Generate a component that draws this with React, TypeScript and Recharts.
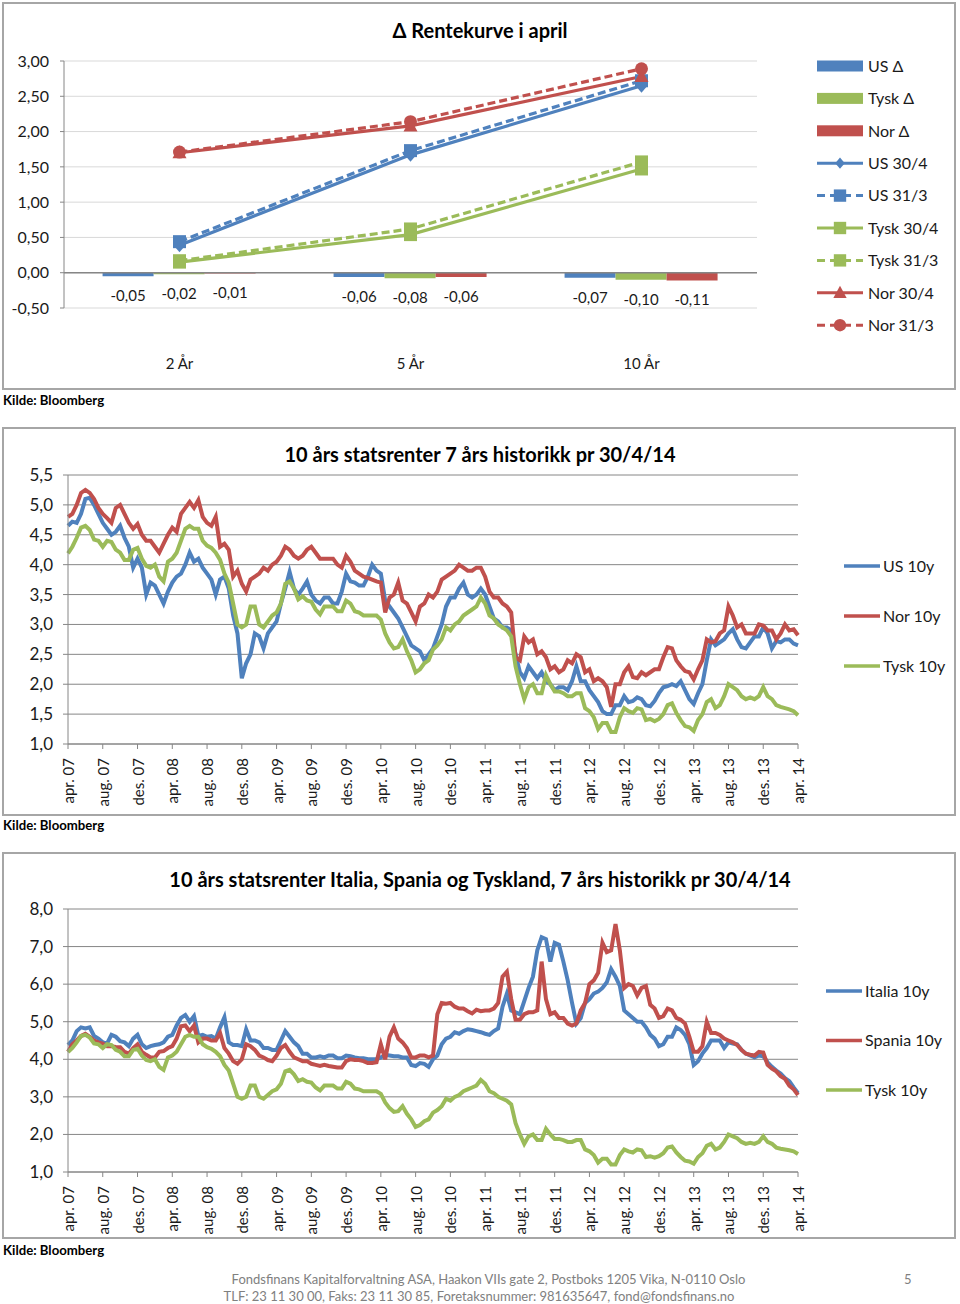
import React from 'react'
import { ComposedChart, LineChart, Line, Bar, XAxis, YAxis, CartesianGrid, ReferenceLine, LabelList, Legend } from 'recharts'

const FONT = 'Lato, "Open Sans", Arial, sans-serif'
const BLUE = '#4f81bd'
const RED = '#c0504d'
const GREEN = '#9bbb59'
const AXIS = '#868686'
const TEXT = '#1a1a1a'

// ---- Δ Rentekurve i april ----
const curveCats = ['2 År', '5 År', '10 År']
const usDelta = [-0.05, -0.06, -0.07]
const tyskDelta = [-0.02, -0.08, -0.1]
const norDelta = [-0.01, -0.06, -0.11]
const us304 = [0.39, 1.67, 2.65]
const us313 = [0.44, 1.73, 2.72]
const tysk304 = [0.15, 0.54, 1.47]
const tysk313 = [0.17, 0.62, 1.57]
const nor304 = [1.7, 2.08, 2.78]
const nor313 = [1.71, 2.14, 2.89]
const curveTicks = [-0.5, 0, 0.5, 1, 1.5, 2, 2.5, 3]

// ---- 10 års statsrenter, halvmånedlige observasjoner apr. 07 - apr. 14 ----
const tickLabels = [
  'apr. 07', 'aug. 07', 'des. 07', 'apr. 08', 'aug. 08', 'des. 08', 'apr. 09', 'aug. 09',
  'des. 09', 'apr. 10', 'aug. 10', 'des. 10', 'apr. 11', 'aug. 11', 'des. 11', 'apr. 12',
  'aug. 12', 'des. 12', 'apr. 13', 'aug. 13', 'des. 13', 'apr. 14',
]

const us10 = [
  4.65, 4.72, 4.70, 4.85, 5.10, 5.12, 5.00, 4.85, 4.70, 4.60, 4.50, 4.55,
  4.65, 4.45, 4.30, 3.95, 4.10, 3.95, 3.50, 3.70, 3.65, 3.50, 3.35, 3.55,
  3.70, 3.80, 3.85, 4.00, 4.20, 4.05, 4.10, 3.95, 3.85, 3.75, 3.50, 3.75,
  3.80, 3.60, 3.15, 2.85, 2.10, 2.35, 2.50, 2.85, 2.80, 2.60, 2.85, 2.95,
  3.05, 3.35, 3.60, 3.88, 3.60, 3.50, 3.60, 3.72, 3.50, 3.40, 3.35, 3.45,
  3.45, 3.35, 3.35, 3.55, 3.85, 3.72, 3.70, 3.65, 3.65, 3.80, 4.00, 3.90,
  3.85, 3.40, 3.30, 3.20, 3.10, 2.95, 2.80, 2.65, 2.60, 2.55, 2.40, 2.50,
  2.60, 2.80, 3.00, 3.30, 3.45, 3.45, 3.60, 3.70, 3.50, 3.45, 3.50, 3.60,
  3.50, 3.30, 3.10, 3.05, 2.95, 2.95, 2.90, 2.50, 2.20, 2.10, 2.30, 2.20,
  2.10, 2.20, 2.05, 2.00, 1.90, 1.95, 1.95, 1.90, 2.05, 2.30, 2.05, 2.05,
  1.90, 1.80, 1.70, 1.55, 1.50, 1.50, 1.65, 1.65, 1.80, 1.70, 1.72, 1.78,
  1.75, 1.65, 1.63, 1.72, 1.85, 1.95, 1.97, 2.00, 1.97, 2.05, 1.90, 1.75,
  1.67, 1.85, 2.00, 2.40, 2.75, 2.65, 2.70, 2.75, 2.85, 2.92, 2.75, 2.62,
  2.60, 2.70, 2.80, 2.80, 2.95, 2.85, 2.60, 2.72, 2.70, 2.75, 2.75, 2.68,
  2.65,
]

const nor10 = [
  4.80, 4.85, 5.00, 5.20, 5.25, 5.20, 5.10, 4.95, 4.85, 4.78, 4.70, 4.95,
  5.00, 4.85, 4.70, 4.60, 4.68, 4.50, 4.40, 4.40, 4.30, 4.20, 4.35, 4.50,
  4.62, 4.55, 4.85, 4.95, 5.05, 4.95, 5.08, 4.80, 4.70, 4.65, 4.80, 4.30,
  4.35, 4.25, 3.80, 3.90, 3.68, 3.55, 3.75, 3.80, 3.85, 3.95, 3.90, 4.00,
  4.05, 4.15, 4.30, 4.25, 4.15, 4.10, 4.15, 4.25, 4.30, 4.20, 4.10, 4.10,
  4.10, 4.10, 4.00, 3.95, 4.15, 4.05, 3.90, 3.85, 3.80, 3.78, 3.75, 3.72,
  3.70, 3.20, 3.45, 3.50, 3.70, 3.40, 3.35, 3.20, 3.05, 3.30, 3.35, 3.50,
  3.45, 3.55, 3.75, 3.80, 3.85, 3.90, 4.00, 3.95, 3.90, 3.90, 3.95, 3.95,
  3.80, 3.55, 3.45, 3.45, 3.35, 3.30, 3.20, 2.45, 2.40, 2.80, 2.70, 2.75,
  2.50, 2.55, 2.45, 2.25, 2.30, 2.20, 2.25, 2.40, 2.35, 2.50, 2.45, 2.20,
  2.25, 2.05, 2.10, 2.05, 1.95, 1.62, 2.00, 2.00, 2.20, 2.30, 2.12, 2.10,
  2.20, 2.15, 2.20, 2.25, 2.25, 2.45, 2.62, 2.60, 2.40, 2.30, 2.22, 2.20,
  2.08, 2.25, 2.40, 2.75, 2.70, 2.72, 2.85, 2.90, 3.30, 3.15, 2.95, 3.00,
  2.85, 2.85, 2.85, 3.00, 2.98, 2.90, 2.90, 2.75, 2.85, 3.00, 2.90, 2.92,
  2.82,
]

const tysk10 = [
  4.19, 4.30, 4.45, 4.62, 4.65, 4.58, 4.42, 4.40, 4.30, 4.40, 4.38, 4.25,
  4.20, 4.08, 4.08, 4.25, 4.28, 4.10, 3.98, 3.95, 4.00, 3.80, 3.72, 4.05,
  4.10, 4.20, 4.40, 4.60, 4.65, 4.60, 4.60, 4.40, 4.32, 4.28, 4.20, 4.08,
  3.85, 3.70, 3.35, 3.00, 2.95, 3.00, 3.30, 3.30, 3.00, 2.95, 3.05, 3.15,
  3.20, 3.35, 3.68, 3.72, 3.60, 3.42, 3.47, 3.40, 3.38, 3.25, 3.17, 3.30,
  3.30, 3.30, 3.22, 3.22, 3.40, 3.35, 3.22, 3.20, 3.15, 3.15, 3.15, 3.15,
  3.08, 2.85, 2.70, 2.60, 2.62, 2.75, 2.55, 2.40, 2.20, 2.25, 2.35, 2.40,
  2.58, 2.65, 2.75, 2.95, 2.90, 3.00, 3.05, 3.15, 3.20, 3.25, 3.30, 3.45,
  3.35, 3.15, 3.10, 3.00, 2.95, 2.90, 2.80, 2.30, 2.00, 1.75, 1.95, 2.00,
  1.85, 1.85, 2.15, 2.00, 1.88, 1.88, 1.85, 1.80, 1.80, 1.85, 1.85, 1.60,
  1.55, 1.45, 1.25, 1.35, 1.35, 1.20, 1.20, 1.45, 1.60, 1.55, 1.52, 1.60,
  1.58, 1.40, 1.42, 1.38, 1.42, 1.50, 1.65, 1.68, 1.52, 1.40, 1.30, 1.28,
  1.22, 1.40, 1.50, 1.70, 1.75, 1.60, 1.65, 1.80, 2.00, 1.95, 1.90, 1.80,
  1.75, 1.78, 1.75, 1.80, 1.95, 1.80, 1.75, 1.65, 1.62, 1.60, 1.58, 1.55,
  1.48,
]

const ita10 = [
  4.38, 4.50, 4.75, 4.85, 4.82, 4.85, 4.62, 4.55, 4.45, 4.42, 4.65, 4.60,
  4.48, 4.45, 4.35, 4.55, 4.65, 4.40, 4.30, 4.35, 4.38, 4.40, 4.45, 4.60,
  4.65, 4.90, 5.10, 5.18, 5.00, 5.15, 4.62, 4.65, 4.60, 4.62, 4.55, 4.85,
  5.12, 4.45, 4.38, 4.38, 4.35, 4.80, 4.50, 4.50, 4.45, 4.30, 4.30, 4.25,
  4.25, 4.50, 4.75, 4.60, 4.45, 4.35, 4.15, 4.15, 4.05, 4.05, 4.08, 4.05,
  4.10, 4.10, 4.03, 4.03, 4.10, 4.08, 4.05, 4.03, 4.03, 4.00, 4.00, 4.00,
  4.05, 4.12, 4.10, 4.08, 4.08, 4.05, 4.05, 3.85, 3.82, 3.90, 3.88, 3.80,
  4.00, 4.10, 4.40, 4.55, 4.60, 4.72, 4.68, 4.75, 4.80, 4.78, 4.75, 4.72,
  4.68, 4.65, 4.75, 4.82, 5.40, 5.75, 5.30, 5.25, 5.20, 5.55, 5.90, 6.20,
  6.90, 7.25, 7.20, 6.60, 7.10, 7.05, 6.60, 6.10, 5.50, 4.95, 5.10, 5.50,
  5.60, 5.75, 5.80, 5.90, 6.05, 6.40, 6.20, 5.95, 5.30, 5.20, 5.10, 5.00,
  5.00, 4.85, 4.65, 4.55, 4.35, 4.40, 4.60, 4.60, 4.85, 4.78, 4.65, 4.40,
  3.85, 3.95, 4.15, 4.30, 4.50, 4.50, 4.50, 4.30, 4.45, 4.42, 4.40, 4.25,
  4.15, 4.10, 4.05, 4.10, 4.08, 3.92, 3.80, 3.70, 3.62, 3.50, 3.42, 3.25,
  3.10,
]

const spa10 = [
  4.20, 4.40, 4.50, 4.62, 4.68, 4.60, 4.50, 4.45, 4.42, 4.35, 4.35, 4.33,
  4.32, 4.20, 4.15, 4.30, 4.40, 4.20, 4.12, 4.05, 4.05, 4.20, 4.22, 4.30,
  4.35, 4.55, 4.88, 4.90, 4.75, 4.90, 4.45, 4.55, 4.55, 4.50, 4.50, 4.70,
  4.30, 4.15, 3.95, 3.88, 4.00, 4.40, 4.35, 4.25, 4.10, 4.05, 3.98, 3.95,
  4.10, 4.30, 4.38, 4.20, 4.05, 4.00, 3.95, 3.95, 3.88, 3.85, 3.82, 3.85,
  3.82, 3.80, 3.78, 3.78, 3.95, 4.00, 3.98, 3.98, 3.95, 3.90, 3.90, 3.92,
  4.40, 4.00, 4.60, 4.85, 4.55, 4.45, 4.30, 4.05, 4.05, 4.10, 4.10, 4.05,
  4.10, 5.20, 5.50, 5.48, 5.50, 5.40, 5.35, 5.35, 5.28, 5.22, 5.32, 5.28,
  5.30, 5.30, 5.35, 5.50, 6.20, 6.33, 5.60, 5.05, 5.05, 5.20, 5.25, 5.25,
  5.30, 6.60, 5.60, 5.20, 5.25, 5.10, 5.10, 4.95, 4.90, 4.95, 5.30, 5.50,
  6.00, 6.10, 6.30, 7.10, 6.85, 6.90, 7.60, 6.90, 5.90, 6.00, 5.95, 5.70,
  5.90, 5.95, 5.45, 5.35, 5.10, 5.15, 5.35, 5.30, 5.10, 5.05, 4.95, 4.60,
  4.20, 4.20, 4.35, 5.00, 4.70, 4.70, 4.65, 4.55, 4.50, 4.45, 4.38, 4.25,
  4.15, 4.12, 4.10, 4.20, 4.18, 3.85, 3.75, 3.68, 3.55, 3.48, 3.30, 3.20,
  3.05,
]

const ratesTicks = [1, 1.5, 2, 2.5, 3, 3.5, 4, 4.5, 5, 5.5]
const euroTicks = [1, 2, 3, 4, 5, 6, 7, 8]
const monthTicks = tickLabels.map((_, i) => i * 4)

// x = months since apr. 07, half-month steps
const curveRows = curveCats.map((cat, i) => ({
  cat,
  usD: usDelta[i], tyskD: tyskDelta[i], norD: norDelta[i],
  us304: us304[i], us313: us313[i],
  tysk304: tysk304[i], tysk313: tysk313[i],
  nor304: nor304[i], nor313: nor313[i],
}))
const ratesRows = us10.map((v, i) => ({ m: i / 2, us: v, nor: nor10[i], tysk: tysk10[i] }))
const euroRows = ita10.map((v, i) => ({ m: i / 2, ita: v, spa: spa10[i], tysk: tysk10[i] }))

const fmt2 = (v: number) => v.toFixed(2).replace('.', ',')
const fmt1 = (v: number) => v.toFixed(1).replace('.', ',')

type Shape = 'diamond' | 'square' | 'triangle' | 'circle'

const curveBars = [
  { key: 'usD', name: 'US Δ', color: BLUE },
  { key: 'tyskD', name: 'Tysk Δ', color: GREEN },
  { key: 'norD', name: 'Nor Δ', color: RED },
]
const curveLines: { key: string; name: string; color: string; dashed: boolean; shape: Shape }[] = [
  { key: 'us304', name: 'US 30/4', color: BLUE, dashed: false, shape: 'diamond' },
  { key: 'us313', name: 'US 31/3', color: BLUE, dashed: true, shape: 'square' },
  { key: 'tysk304', name: 'Tysk 30/4', color: GREEN, dashed: false, shape: 'square' },
  { key: 'tysk313', name: 'Tysk 31/3', color: GREEN, dashed: true, shape: 'square' },
  { key: 'nor304', name: 'Nor 30/4', color: RED, dashed: false, shape: 'triangle' },
  { key: 'nor313', name: 'Nor 31/3', color: RED, dashed: true, shape: 'circle' },
]

function Marker({ shape, cx, cy, color, s = 1 }: { shape: Shape; cx: number; cy: number; color: string; s?: number }) {
  if (shape === 'circle') return <circle cx={cx} cy={cy} r={6.5 * s} fill={color} />
  if (shape === 'square') return <rect x={cx - 6.5 * s} y={cy - 6.5 * s} width={13 * s} height={13 * s} fill={color} />
  if (shape === 'triangle')
    return <path d={`M${cx},${cy - 7.5 * s}L${cx + 7 * s},${cy + 5.5 * s}L${cx - 7 * s},${cy + 5.5 * s}Z`} fill={color} />
  return <path d={`M${cx},${cy - 7 * s}L${cx + 6 * s},${cy}L${cx},${cy + 7 * s}L${cx - 6 * s},${cy}Z`} fill={color} />
}

const dotOf = (shape: Shape, color: string) => (p: any) =>
  p.cx == null ? <g key={`m-${p.index}`} /> : <Marker key={`m-${p.index}`} shape={shape} cx={p.cx} cy={p.cy} color={color} />

function DeltaLabel(p: any) {
  const vb = p.viewBox || p
  const x = Number(vb.x), y = Number(vb.y), w = Number(vb.width), h = Number(vb.height)
  const bottom = Math.max(y, y + h)
  return (
    <text x={x + w / 2} y={bottom + 25} textAnchor="middle" fontSize={15} fontFamily={FONT} fill={TEXT}>
      {fmt2(Number(p.value))}
    </text>
  )
}

function CatTick(p: any) {
  return (
    <text x={p.x} y={p.y + 61} textAnchor="middle" fontSize={15} fontFamily={FONT} fill={TEXT}>
      {p.payload.value}
    </text>
  )
}

function DateTick(p: any) {
  const label = tickLabels[Math.round(p.payload.value / 4)]
  return (
    <text transform={`translate(${p.x + 6},${p.y + 9}) rotate(-90)`} textAnchor="end" fontSize={15} fontFamily={FONT} fill={TEXT}>
      {label}
    </text>
  )
}

function CurveLegend() {
  const rows = [
    ...curveBars.map((b) => ({ ...b, kind: 'bar' as const, dashed: false, shape: 'square' as Shape })),
    ...curveLines.map((l) => ({ ...l, kind: 'line' as const })),
  ]
  return (
    <svg width={150} height={300} style={{ display: 'block' }}>
      {rows.map((r, i) => {
        const cy = 16 + i * 32.4
        return (
          <g key={r.name}>
            {r.kind === 'bar' ? (
              <rect x={5} y={cy - 5.5} width={46} height={11} fill={r.color} />
            ) : (
              <>
                <line x1={5} x2={51} y1={cy} y2={cy} stroke={r.color} strokeWidth={3} strokeDasharray={r.dashed ? '8 5' : undefined} />
                <Marker shape={r.shape} cx={28} cy={cy} color={r.color} s={r.shape === 'diamond' ? 0.8 : 0.95} />
              </>
            )}
            <text x={56} y={cy + 5.8} fontSize={16} fontFamily={FONT} fill={TEXT}>{r.name}</text>
          </g>
        )
      })}
    </svg>
  )
}

function makeLineLegend(items: { name: string; color: string }[], step: number) {
  return function LineLegend() {
    return (
      <svg width={130} height={150} style={{ display: 'block' }}>
        {items.map((it, i) => {
          const cy = 19 + i * step
          return (
            <g key={it.name}>
              <line x1={6} x2={42} y1={cy} y2={cy} stroke={it.color} strokeWidth={3.5} />
              <text x={45} y={cy + 5.8} fontSize={16} fontFamily={FONT} fill={TEXT}>{it.name}</text>
            </g>
          )
        })}
      </svg>
    )
  }
}

const RatesLegend = makeLineLegend(
  [{ name: 'US 10y', color: BLUE }, { name: 'Nor 10y', color: RED }, { name: 'Tysk 10y', color: GREEN }],
  50,
)
const EuroLegend = makeLineLegend(
  [{ name: 'Italia 10y', color: BLUE }, { name: 'Spania 10y', color: RED }, { name: 'Tysk 10y', color: GREEN }],
  49.5,
)

function CurveChart() {
  return (
    <ComposedChart
      width={960}
      height={400}
      data={curveRows}
      margin={{ top: 61, right: 203, bottom: 12, left: 8 }}
      barCategoryGap="16.7%"
      barGap={0}
    >
      <CartesianGrid vertical={false} stroke="#d9d9d9" />
      <XAxis dataKey="cat" height={80} axisLine={false} tickLine={false} tickSize={0} tickMargin={0} interval={0} tick={CatTick} />
      <YAxis
        width={56}
        domain={[-0.5, 3]}
        ticks={curveTicks}
        interval={0}
        tickFormatter={fmt2}
        stroke={AXIS}
        tickSize={4}
        tickMargin={11}
        tick={{ fill: TEXT, fontSize: 16, fontFamily: FONT }}
      />
      <ReferenceLine y={0} stroke={AXIS} strokeWidth={1.5} />
      {curveBars.map((b) => (
        <Bar key={b.key} dataKey={b.key} fill={b.color} isAnimationActive={false}>
          <LabelList dataKey={b.key} content={DeltaLabel} />
        </Bar>
      ))}
      {curveLines.map((l) => (
        <Line
          key={l.key}
          type="linear"
          dataKey={l.key}
          stroke={l.color}
          strokeWidth={3.2}
          strokeDasharray={l.dashed ? '8 4' : undefined}
          dot={dotOf(l.shape, l.color)}
          activeDot={false}
          isAnimationActive={false}
        />
      ))}
      <Legend content={CurveLegend} layout="vertical" align="center" verticalAlign="middle" wrapperStyle={{ left: 812, top: 50, width: 150 }} />
    </ComposedChart>
  )
}

function RatesChart() {
  return (
    <LineChart width={960} height={388} data={ratesRows} margin={{ top: 48, right: 162, bottom: 9, left: 8 }}>
      <CartesianGrid vertical={false} stroke={AXIS} />
      <XAxis
        type="number"
        dataKey="m"
        domain={[0, 84]}
        ticks={monthTicks}
        interval={0}
        height={62}
        stroke={AXIS}
        tickSize={5}
        tickMargin={0}
        tick={DateTick}
      />
      <YAxis
        width={60}
        domain={[1, 5.5]}
        ticks={ratesTicks}
        interval={0}
        tickFormatter={fmt1}
        stroke={AXIS}
        tickSize={5}
        tickMargin={10}
        tick={{ fill: TEXT, fontSize: 17, fontFamily: FONT }}
      />
      <Line type="linear" dataKey="us" stroke={BLUE} strokeWidth={4} dot={false} activeDot={false} isAnimationActive={false} />
      <Line type="linear" dataKey="nor" stroke={RED} strokeWidth={4} dot={false} activeDot={false} isAnimationActive={false} />
      <Line type="linear" dataKey="tysk" stroke={GREEN} strokeWidth={4} dot={false} activeDot={false} isAnimationActive={false} />
      <Legend content={RatesLegend} layout="vertical" align="center" verticalAlign="middle" wrapperStyle={{ left: 838, top: 120, width: 130 }} />
    </LineChart>
  )
}

function EuroChart() {
  return (
    <LineChart width={960} height={388} data={euroRows} margin={{ top: 57, right: 162, bottom: 8, left: 8 }}>
      <CartesianGrid vertical={false} stroke={AXIS} />
      <XAxis
        type="number"
        dataKey="m"
        domain={[0, 84]}
        ticks={monthTicks}
        interval={0}
        height={60}
        stroke={AXIS}
        tickSize={5}
        tickMargin={0}
        tick={DateTick}
      />
      <YAxis
        width={60}
        domain={[1, 8]}
        ticks={euroTicks}
        interval={0}
        tickFormatter={fmt1}
        stroke={AXIS}
        tickSize={5}
        tickMargin={10}
        tick={{ fill: TEXT, fontSize: 17, fontFamily: FONT }}
      />
      <Line type="linear" dataKey="ita" stroke={BLUE} strokeWidth={4} dot={false} activeDot={false} isAnimationActive={false} />
      <Line type="linear" dataKey="spa" stroke={RED} strokeWidth={4} dot={false} activeDot={false} isAnimationActive={false} />
      <Line type="linear" dataKey="tysk" stroke={GREEN} strokeWidth={4} dot={false} activeDot={false} isAnimationActive={false} />
      <Legend content={EuroLegend} layout="vertical" align="center" verticalAlign="middle" wrapperStyle={{ left: 820, top: 120, width: 130 }} />
    </LineChart>
  )
}

const panel = (top: number, height: number): React.CSSProperties => ({
  position: 'absolute',
  left: 2,
  top,
  width: 954,
  height,
  boxSizing: 'border-box',
  border: '2px solid #a6a6a6',
})

const title = (top: number): React.CSSProperties => ({
  position: 'absolute',
  left: 0,
  top,
  width: 960,
  textAlign: 'center',
  fontSize: 20,
  fontWeight: 700,
  lineHeight: '24px',
  color: '#000',
})

const kilde = (top: number): React.CSSProperties => ({
  position: 'absolute',
  left: 3,
  top,
  fontSize: 13.2,
  fontWeight: 700,
  lineHeight: '16px',
  color: '#000',
})

const footer: React.CSSProperties = {
  position: 'absolute',
  left: 0,
  fontSize: 13,
  lineHeight: '16px',
  color: '#808080',
  textAlign: 'center',
}

export default function App() {
  return (
    <div style={{ position: 'absolute', left: 0, top: 0, width: 960, height: 1304, background: '#fff', fontFamily: FONT, overflow: 'hidden' }}>
      <div style={panel(2, 388)} />
      <div style={panel(427, 389)} />
      <div style={panel(852, 387)} />

      <div style={{ position: 'absolute', left: 0, top: 0 }}><CurveChart /></div>
      <div style={{ position: 'absolute', left: 0, top: 427 }}><RatesChart /></div>
      <div style={{ position: 'absolute', left: 0, top: 852 }}><EuroChart /></div>

      <div style={title(18)}>Δ Rentekurve i april</div>
      <div style={title(442)}>10 års statsrenter 7 års historikk pr 30/4/14</div>
      <div style={title(867)}>10 års statsrenter Italia, Spania og Tyskland, 7 års historikk pr 30/4/14</div>

      <div style={kilde(392)}>Kilde: Bloomberg</div>
      <div style={kilde(817)}>Kilde: Bloomberg</div>
      <div style={kilde(1242)}>Kilde: Bloomberg</div>

      <div style={{ ...footer, width: 977, top: 1271 }}>
        Fondsfinans Kapitalforvaltning ASA, Haakon VIIs gate 2, Postboks 1205 Vika, N-0110 Oslo
      </div>
      <div style={{ ...footer, width: 958, top: 1288 }}>
        TLF: 23 11 30 00, Faks: 23 11 30 85, Foretaksnummer: 981635647, fond@fondsfinans.no
      </div>
      <div style={{ ...footer, left: 904, top: 1271, textAlign: 'left' }}>5</div>
    </div>
  )
}
